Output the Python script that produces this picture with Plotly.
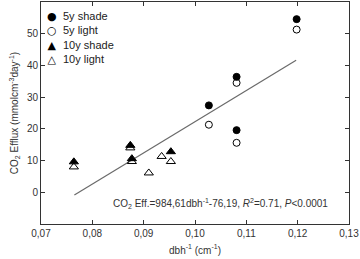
import plotly.graph_objects as go

# 5y shade (filled circles)
s5_x = [0.1027, 0.1081, 0.1081, 0.1198]
s5_y = [27.4, 36.4, 19.6, 54.6]
# 5y light (open circles)
l5_x = [0.1027, 0.1081, 0.1081, 0.1198]
l5_y = [21.3, 34.5, 15.6, 51.3]
# 10y shade (filled triangles)
s10_x = [0.0764, 0.0874, 0.0877, 0.0953]
s10_y = [9.6, 14.8, 10.6, 12.8]
# 10y light (open triangles)
l10_x = [0.0764, 0.0874, 0.0877, 0.0910, 0.0935, 0.0953]
l10_y = [8.0, 14.0, 9.7, 6.1, 11.3, 9.7]

legend_symbols = ["●", "○", "▲", "△"]
legend_names = ["5y shade", "5y light", "10y shade", "10y light"]

slope, intercept = 984.61, -76.19
fit_x = [0.0765, 0.1197]
fit_y = [slope * v + intercept for v in fit_x]

FONT = "Liberation Sans, Arial, sans-serif"

fig = go.Figure()
fig.add_trace(go.Scatter(x=fit_x, y=fit_y, mode="lines",
                         line=dict(color="#6a6a6a", width=1.2), showlegend=False))
fig.add_trace(go.Scatter(x=s5_x, y=s5_y, mode="markers", name=legend_names[0],
                         marker=dict(symbol="circle", size=7, color="black",
                                     line=dict(color="black", width=1))))
fig.add_trace(go.Scatter(x=l5_x, y=l5_y, mode="markers", name=legend_names[1],
                         marker=dict(symbol="circle-open", size=7, color="black",
                                     line=dict(color="black", width=1))))
fig.add_trace(go.Scatter(x=s10_x, y=s10_y, mode="markers", name=legend_names[2],
                         marker=dict(symbol="triangle-up", size=8, color="black",
                                     line=dict(color="black", width=1))))
fig.add_trace(go.Scatter(x=l10_x, y=l10_y, mode="markers", name=legend_names[3],
                         marker=dict(symbol="triangle-up-open", size=8, color="black",
                                     line=dict(color="black", width=1))))

axis_common = dict(showgrid=False, zeroline=False, showline=True, linecolor="#333",
                   linewidth=1, ticks="inside", ticklen=4, tickcolor="#333",
                   mirror="ticks", tickfont=dict(size=10, color="#333", family=FONT))

fig.update_xaxes(range=[0.07, 0.13], tickvals=[0.07, 0.08, 0.09, 0.10, 0.11, 0.12, 0.13],
                 tickformat=".2f",
                 title=dict(text="dbh<sup>-1</sup> (cm<sup>-1</sup>)", standoff=8,
                            font=dict(size=10, color="#333", family=FONT)),
                 **axis_common)
fig.update_yaxes(range=[-10, 60], tickvals=[0, 10, 20, 30, 40, 50, 60],
                 title=dict(text="CO<sub>2</sub> Efflux (mmolcm<sup>-3</sup>day<sup>-1</sup>)",
                            standoff=6, font=dict(size=10, color="#333", family=FONT)),
                 **axis_common)

fig.add_annotation(x=0.0837, y=-3.6, xref="x", yref="y", xanchor="left", showarrow=False,
                   text="CO<sub>2</sub> Eff.=984,61dbh<sup>-1</sup>-76,19, <i>R</i><sup>2</sup>=0.71, <i>P</i><0.0001",
                   font=dict(size=10, color="#333", family=FONT))

# compact legend as text (tight line spacing like the reference): symbol column + name column
fig.add_annotation(x=0.036, y=0.975, xref="paper", yref="paper", xanchor="center",
                   yanchor="top", align="center", showarrow=False,
                   text="<br>".join(legend_symbols),
                   font=dict(size=11, color="black", family="DejaVu Sans"))
fig.add_annotation(x=0.066, y=0.975, xref="paper", yref="paper", xanchor="left",
                   yanchor="top", align="left", showarrow=False,
                   text="<br>".join(legend_names),
                   font=dict(size=11, color="#222", family=FONT))

fig.update_layout(
    width=360, height=259,
    margin=dict(l=41, r=11, t=2, b=35),
    paper_bgcolor="white", plot_bgcolor="white",
    separators=",.",
    showlegend=False,
    font=dict(family=FONT, size=10, color="#333"),
)

fig.write_html("out.html")
